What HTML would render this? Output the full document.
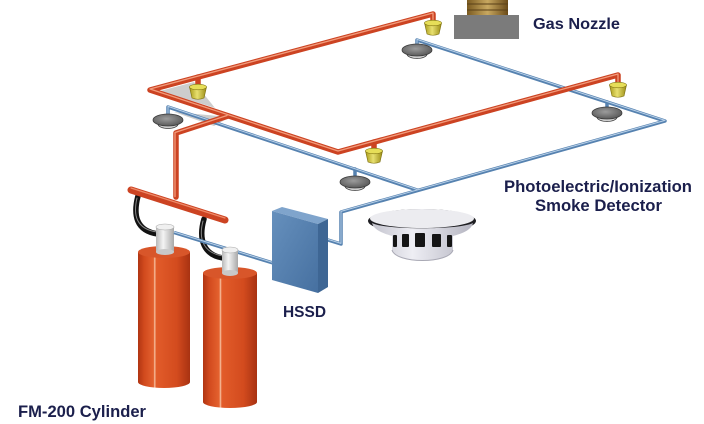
<!DOCTYPE html>
<html><head><meta charset="utf-8"><style>
html,body{margin:0;padding:0;background:#fff;}
svg{display:block;}
text{font-family:"Liberation Sans",Arial,sans-serif;font-weight:bold;fill:#1b1f4c;}
</style></head><body>
<svg width="704" height="424" viewBox="0 0 704 424" xmlns="http://www.w3.org/2000/svg">
<defs>
<linearGradient id="cyl" x1="0" x2="1" y1="0" y2="0">
<stop offset="0" stop-color="#b03512"/><stop offset="0.12" stop-color="#d24a1e"/>
<stop offset="0.3" stop-color="#e4622f"/><stop offset="0.32" stop-color="#f6c0a0"/>
<stop offset="0.35" stop-color="#e25c2a"/><stop offset="0.75" stop-color="#d34b1e"/>
<stop offset="1" stop-color="#a83212"/></linearGradient>
<linearGradient id="valve" x1="0" x2="1"><stop offset="0" stop-color="#b8b8b8"/><stop offset="0.4" stop-color="#f4f4f4"/><stop offset="1" stop-color="#a8a8a8"/></linearGradient>
<linearGradient id="noz" x1="0" x2="1"><stop offset="0" stop-color="#a89a18"/><stop offset="0.45" stop-color="#e8e070"/><stop offset="1" stop-color="#9a8c14"/></linearGradient>
<radialGradient id="disc" cx="0.45" cy="0.4" r="0.6"><stop offset="0" stop-color="#9c9c9c"/><stop offset="1" stop-color="#5a5a5a"/></radialGradient>
<linearGradient id="hsf" x1="0" x2="1" y1="0" y2="1"><stop offset="0" stop-color="#6690bd"/><stop offset="1" stop-color="#4670a0"/></linearGradient>
<linearGradient id="sd" x1="0" x2="1" y1="0" y2="0"><stop offset="0" stop-color="#c4c4ce"/><stop offset="0.4" stop-color="#eeeef4"/><stop offset="1" stop-color="#b4b4c0"/></linearGradient>
<linearGradient id="brass" x1="0" x2="1"><stop offset="0" stop-color="#7a5a20"/><stop offset="0.5" stop-color="#c8a860"/><stop offset="1" stop-color="#6a4a18"/></linearGradient>
</defs>

<!-- ceiling gray patches -->
<polygon points="160,91 194,82 215,108" fill="#cdcdcd"/>
<polygon points="174,112 230,117 214,126" fill="#cdcdcd"/>

<!-- gas nozzle picture -->
<rect x="467" y="0" width="41" height="15" fill="url(#brass)"/>
<line x1="467" y1="4" x2="508" y2="4" stroke="#5a4018" stroke-width="1"/>
<line x1="467" y1="10" x2="508" y2="10" stroke="#5a4018" stroke-width="1"/>
<rect x="454" y="15" width="65" height="24" fill="#7b7b7b"/>

<!-- blue network -->
<g fill="none" stroke-linejoin="round" stroke-linecap="round">
<g stroke="#5682b0" stroke-width="3.5">
<path d="M417,49 L417,40 L665,121 L341,212 L341,244 L328,240"/>
<path d="M168,119 L168,107 L417,190"/>
<path d="M607,102 L607,112"/>
<path d="M355,169 L355,181"/>
</g>
<g stroke="#b8d0e8" stroke-width="1">
<path d="M417,49 L417,40 L665,121 L341,212 L341,244 L328,240" transform="translate(0,-0.6)"/>
<path d="M168,119 L168,107 L417,190" transform="translate(0,-0.6)"/>
</g>
</g>

<!-- gray detectors -->
<g stroke="#3a3a3a" stroke-width="0.8">
<ellipse cx="417" cy="54" rx="10" ry="4.5" fill="#cfcfcf"/><ellipse cx="417" cy="50" rx="15" ry="6" fill="url(#disc)"/>
<ellipse cx="607" cy="117" rx="10" ry="4.5" fill="#cfcfcf"/><ellipse cx="607" cy="113" rx="15" ry="6" fill="url(#disc)"/>
<ellipse cx="355" cy="186" rx="10" ry="4.5" fill="#cfcfcf"/><ellipse cx="355" cy="182" rx="15" ry="6" fill="url(#disc)"/>
<ellipse cx="168" cy="124" rx="10" ry="4.5" fill="#cfcfcf"/><ellipse cx="168" cy="120" rx="15" ry="6" fill="url(#disc)"/>
</g>

<!-- red network -->
<g fill="none" stroke-linejoin="round" stroke-linecap="round">
<g stroke="#cc4322" stroke-width="5.5">
<path d="M433,23 L433,14 L150,90 L338,152 L618,75 L618,85"/>
<path d="M198,77 L198,87"/>
<path d="M374,142 L374,151"/>
<path d="M176,197 L176,133 L228,116"/>
</g>
<g stroke="#f29c7c" stroke-width="1.3">
<path d="M433,23 L433,14 L150,90 L338,152 L618,75 L618,85" transform="translate(0,-1)"/>
<path d="M176,197 L176,133 L228,116" transform="translate(-1,-0.5)"/>
</g>
</g>

<!-- yellow nozzles -->
<g stroke="#7d7010" stroke-width="0.6">
<path d="M424.5,23 L441.5,23 L439,34 Q433,36.5 427,34 Z" fill="url(#noz)"/><ellipse cx="433" cy="23" rx="8.5" ry="2.8" fill="#e6de58"/>
<path d="M609.5,85 L626.5,85 L624,96 Q618,98.5 612,96 Z" fill="url(#noz)"/><ellipse cx="618" cy="85" rx="8.5" ry="2.8" fill="#e6de58"/>
<path d="M365.5,151 L382.5,151 L380,162 Q374,164.5 368,162 Z" fill="url(#noz)"/><ellipse cx="374" cy="151" rx="8.5" ry="2.8" fill="#e6de58"/>
<path d="M189.5,87 L206.5,87 L204,98 Q198,100.5 192,98 Z" fill="url(#noz)"/><ellipse cx="198" cy="87" rx="8.5" ry="2.8" fill="#e6de58"/>
</g>

<!-- hoses -->
<g fill="none" stroke-linecap="round">
<path d="M138,196 C133,215 136,231 158,234" stroke="#111" stroke-width="5.5"/>
<path d="M204,219 C198,240 204,255 223,258" stroke="#111" stroke-width="5.5"/>
<path d="M137,198 C133,215 136,229 157,232" stroke="#888" stroke-width="1"/>
<path d="M203,221 C198,240 204,253 223,256" stroke="#888" stroke-width="1"/>
</g>
<!-- manifold -->
<path d="M131,190 L225,220" stroke="#cc4322" stroke-width="7" stroke-linecap="round"/>
<path d="M131,188 L225,218" stroke="#ee8a68" stroke-width="1.2" stroke-linecap="round"/>

<!-- cylinder 1 -->
<rect x="138" y="252" width="52" height="130" fill="url(#cyl)"/>
<ellipse cx="164" cy="382" rx="26" ry="6" fill="url(#cyl)"/>
<ellipse cx="164" cy="252" rx="26" ry="6" fill="#d8562a"/>
<rect x="156" y="227" width="18" height="25" fill="url(#valve)"/>
<ellipse cx="165" cy="252" rx="9" ry="3" fill="#c8c8c8"/>
<ellipse cx="165" cy="227" rx="9" ry="3" fill="#f0f0f0" stroke="#aaa" stroke-width="0.6"/>

<!-- blue to HSSD -->
<path d="M174,232.5 L273,263" stroke="#5682b0" stroke-width="3.5" fill="none"/>
<path d="M174,232 L273,262.5" stroke="#b8d0e8" stroke-width="1" fill="none"/>

<!-- cylinder 2 -->
<rect x="203" y="273" width="54" height="129" fill="url(#cyl)"/>
<ellipse cx="230" cy="402" rx="27" ry="6" fill="url(#cyl)"/>
<ellipse cx="230" cy="273" rx="27" ry="6" fill="#d8562a"/>
<rect x="222" y="250" width="16" height="23" fill="url(#valve)"/>
<ellipse cx="230" cy="273" rx="8" ry="3" fill="#c8c8c8"/>
<ellipse cx="230" cy="250" rx="8" ry="3" fill="#f0f0f0" stroke="#aaa" stroke-width="0.6"/>

<!-- HSSD box -->
<polygon points="272,211 282,207 328,219 318,224" fill="#7fa4cc"/>
<polygon points="318,224 328,219 328,287 318,293" fill="#3e6694"/>
<polygon points="272,211 318,224 318,293 272,280" fill="url(#hsf)"/>

<!-- smoke detector -->
<ellipse cx="422" cy="221" rx="54" ry="12" fill="#1e1e22"/>
<ellipse cx="422" cy="218.5" rx="52" ry="9.5" fill="#ececf0"/>
<path d="M372,223 C374,231 386,234 392,236 L392,250 C396,264 449,264 453,250 L453,236 C460,234 471,231 473,223 C460,230 384,230 372,223 Z" fill="url(#sd)"/>
<path d="M392,250 C396,264 449,264 453,250" fill="none" stroke="#a8a8b4" stroke-width="1"/>
<g fill="#151515">
<rect x="393" y="235" width="4" height="12" rx="1"/>
<rect x="402" y="234" width="7" height="13" rx="1"/>
<rect x="415" y="233" width="10" height="14" rx="1"/>
<rect x="432" y="234" width="9" height="13" rx="1"/>
<rect x="447" y="235" width="5" height="12" rx="1"/>
</g>

<!-- labels -->
<text x="533" y="29" font-size="16" textLength="87" lengthAdjust="spacingAndGlyphs">Gas Nozzle</text>
<text x="504" y="192" font-size="16.5" textLength="188" lengthAdjust="spacingAndGlyphs">Photoelectric/Ionization</text>
<text x="535" y="211" font-size="16.5" textLength="127" lengthAdjust="spacingAndGlyphs">Smoke Detector</text>
<text x="283" y="317" font-size="16" textLength="43" lengthAdjust="spacingAndGlyphs">HSSD</text>
<text x="18" y="417" font-size="16.5" textLength="128" lengthAdjust="spacingAndGlyphs">FM-200 Cylinder</text>
</svg>
</body></html>
